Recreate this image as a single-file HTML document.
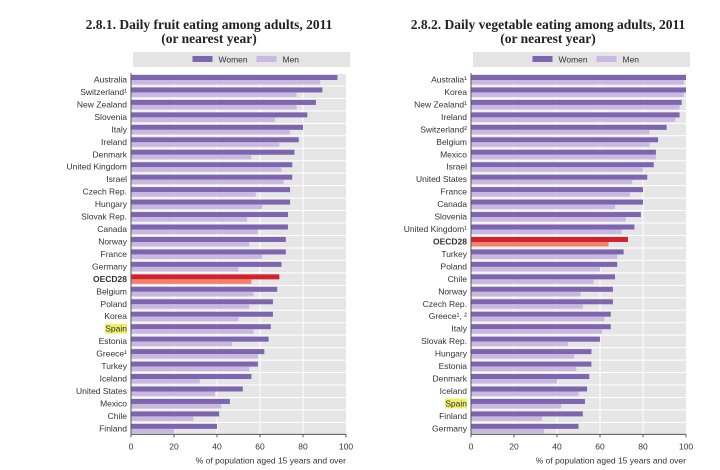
<!DOCTYPE html>
<html><head><meta charset="utf-8"><style>
body{margin:0;background:#fff;width:720px;height:470px;overflow:hidden}
svg{display:block;font-family:"Liberation Sans",sans-serif}
.t{font-family:"Liberation Serif",serif;font-weight:bold;font-size:13.5px;fill:#222}
.l{font-size:8.5px;fill:#333}
</style></head><body>
<svg id="s" width="720" height="470" xmlns="http://www.w3.org/2000/svg"></svg>
<script>
const L=[["Australia",96,88],["Switzerland¹",89,77],["New Zealand",86,77],["Slovenia",82,67],["Italy",80,74],["Ireland",78,69],["Denmark",76,56],["United Kingdom",75,70],["Israel",75,71],["Czech Rep.",74,58],["Hungary",74,61],["Slovak Rep.",73,54],["Canada",73,59],["Norway",72,55],["France",72,61],["Germany",70,50],["OECD28",69,56],["Belgium",68,57],["Poland",66,55],["Korea",66,50],["Spain",65,57],["Estonia",64,47],["Greece¹",62,59],["Turkey",59,55],["Iceland",56,32],["United States",52,39],["Mexico",46,42],["Chile",41,29],["Finland",40,20]];
const R=[["Australia¹",100,99],["Korea",100,99],["New Zealand¹",98,97],["Ireland",97,95],["Switzerland²",91,83],["Belgium",87,83],["Mexico",86,86],["Israel",85,80],["United States",82,75],["France",80,74],["Canada",80,67],["Slovenia",79,72],["United Kingdom¹",76,70],["OECD28",73,64],["Turkey",71,68],["Poland",68,60],["Chile",67,57],["Norway",66,51],["Czech Rep.",66,52],["Greece¹, ²",65,62],["Italy",65,61],["Slovak Rep.",60,45],["Hungary",56,48],["Estonia",56,49],["Denmark",55,40],["Iceland",54,50],["Spain",53,42],["Finland",52,33],["Germany",50,34]];
let h='';
function chart(d,x0,w,tx,t1,t2){
 const y0=73,p=12.46,W=w/100;
 h+=`<text class="t" x="${tx}" y="29" text-anchor="middle">${t1}</text><text class="t" x="${tx}" y="43" text-anchor="middle">${t2}</text>`;
 h+=`<rect x="${x0+2}" y="52" width="${w+2}" height="15" fill="#e4e4e4"/>`;
 const lc=x0+w/2;
 h+=`<rect x="${lc-46}" y="56" width="20" height="6" fill="#7d65b0"/><text class="l" x="${lc-20}" y="62.5">Women</text>`;
 h+=`<rect x="${lc+18}" y="56" width="20" height="6" fill="#c9b8e0"/><text class="l" x="${lc+44}" y="62.5">Men</text>`;
 h+=`<rect x="${x0}" y="${y0}" width="${w}" height="${p*29}" fill="#e6e6e6"/>`;
 for(let g=1;g<5;g++)h+=`<line x1="${x0+g*20*W}" x2="${x0+g*20*W}" y1="${y0}" y2="${y0+p*29}" stroke="#fff" stroke-width="1"/>`;
 d.forEach((r,i)=>{
  const y=y0+i*p;const o=r[0]=="OECD28";
  h+=`<line x1="${x0}" x2="${x0+w}" y1="${y+0.5}" y2="${y+0.5}" stroke="#fff"/>`;
  h+=`<rect x="${x0}" y="${y+2}" width="${r[1]*W}" height="5" fill="${o?'#d3222c':'#7d65b0'}"/>`;
  h+=`<rect x="${x0}" y="${y+7}" width="${r[2]*W}" height="4.5" fill="${o?'#f2826e':'#c9b8e0'}"/>`;
  if(r[0]=="Spain")h+=`<rect x="${x0-26}" y="${y+1.5}" width="22" height="10" fill="#eef06a"/>`;
  h+=`<text class="l" x="${x0-4}" y="${y+9.5}" text-anchor="end" ${o?'font-weight="bold" fill="#111"':''}>${r[0]}</text>`;
 });
 const yb=y0+p*29;
 h+=`<line x1="${x0}" x2="${x0}" y1="${y0}" y2="${yb}" stroke="#555"/><line x1="${x0}" x2="${x0+w}" y1="${yb}" y2="${yb}" stroke="#555"/>`;
 for(let g=0;g<=5;g++){const x=x0+g*20*W;h+=`<line x1="${x}" x2="${x}" y1="${yb}" y2="${yb+3}" stroke="#555"/><text class="l" x="${x}" y="${yb+15}" text-anchor="middle">${g*20}</text>`;}
 h+=`<text class="l" x="${x0+w}" y="${yb+29}" text-anchor="end" font-size="8">% of population aged 15 years and over</text>`;
}
chart(L,131,215,209,"2.8.1.  Daily fruit eating among adults, 2011","(or nearest year)");
chart(R,471,215,548,"2.8.2.  Daily vegetable eating among adults, 2011","(or nearest year)");
document.getElementById('s').innerHTML=h;
</script>
</body></html>
